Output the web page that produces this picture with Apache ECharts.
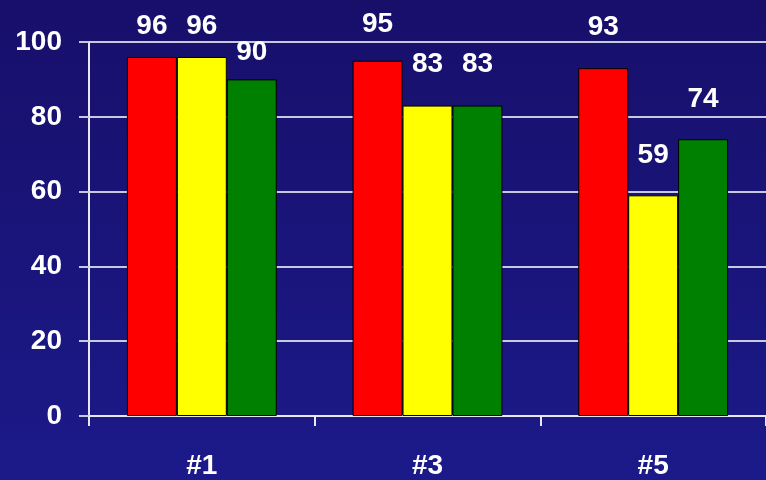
<!DOCTYPE html>
<html>
<head>
<meta charset="utf-8">
<script src="https://cdn.jsdelivr.net/npm/echarts@6/dist/echarts.min.js"></script>
<style>
html, body { margin: 0; padding: 0; }
#chart { width: 766px; height: 480px; }
</style>
</head>
<body>
<div id="chart"></div>
<script>
// 数据
var categories = ['#1', '#3', '#5'];
var redValues = [96, 95, 93];
var yellowValues = [96, 83, 59];
var greenValues = [90, 83, 74];
// label lift above bar top (px), per series
var redLift = [17, 22, 27];
var yellowLift = [17, 27, 26];
var greenLift = [13, 27, 26];

var FONT = 'Liberation Sans, Arial, sans-serif';

function makeSeries(name, color, values, lift) {
    return {
        name: name,
        type: 'bar',
        barGap: '0%',
        barCategoryGap: '33.6%',
        itemStyle: { color: color, borderColor: '#000', borderWidth: 1 },
        label: {
            show: true,
            position: 'top',
            color: '#fff',
            fontSize: 28,
            fontWeight: 'bold',
            fontFamily: FONT
        },
        data: values.map(function (v, i) {
            return { value: v, label: { distance: lift[i] } };
        })
    };
}

var chart = echarts.init(document.getElementById('chart'));
var option = {
    backgroundColor: {
        type: 'linear', x: 0, y: 0, x2: 0, y2: 1,
        colorStops: [
            { offset: 0, color: '#170f6a' },
            { offset: 1, color: '#1c1a8a' }
        ]
    },
    animation: false,
    grid: { left: 89, right: 0, top: 42, bottom: 62 },
    xAxis: {
        type: 'category',
        data: categories,
        axisLine: { lineStyle: { color: '#e8e8f4', width: 2 } },
        axisTick: { show: true, length: 10, lineStyle: { color: '#e8e8f4', width: 2 } },
        axisLabel: {
            color: '#fff', fontSize: 28, fontWeight: 'bold', margin: 36,
            fontFamily: FONT
        }
    },
    yAxis: {
        type: 'value',
        min: 0, max: 100, interval: 20,
        axisLine: { show: true, lineStyle: { color: '#e8e8f4', width: 2 } },
        axisTick: { show: true, length: 10, lineStyle: { color: '#c8c8e0', width: 2 } },
        splitLine: { lineStyle: { color: '#c8c8e0', width: 2 } },
        axisLabel: {
            color: '#fff', fontSize: 28, fontWeight: 'bold', margin: 27,
            fontFamily: FONT
        }
    },
    series: [
        makeSeries('red', '#ff0000', redValues, redLift),
        makeSeries('yellow', '#ffff00', yellowValues, yellowLift),
        makeSeries('green', '#008000', greenValues, greenLift)
    ]
};
chart.setOption(option);
</script>
</body>
</html>
